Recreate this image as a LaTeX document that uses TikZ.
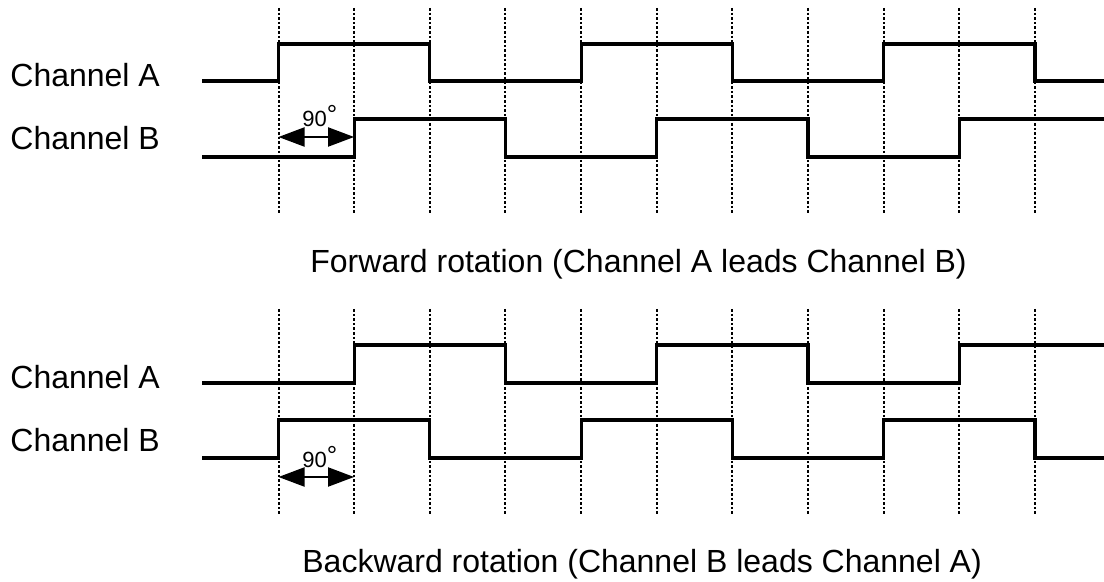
\documentclass[tikz,border=0pt]{standalone}
\usepackage{fontspec}
\setmainfont{Liberation Sans}
\usetikzlibrary{arrows.meta}
\begin{document}
\begin{tikzpicture}[x=0.5pt,y=-0.5pt,
  signal/.style={line width=1.6pt, line join=miter},
  grid/.style={line width=1pt, dash pattern=on 1.3pt off 1pt},
  lab/.style={inner sep=0pt, anchor=base west, font=\fontsize{16}{19}\selectfont},
  deg/.style={inner sep=0pt, anchor=base west, font=\fontsize{11}{13}\selectfont},
  phase/.style={line width=1pt, {Triangle[length=13pt,width=9.5pt]}-{Triangle[length=13pt,width=9.5pt]}}]
\useasboundingbox (0,0) rectangle (1104,582);
% grid lines
\foreach \i in {0,...,10}{
  \draw[grid] ({278.5+75.64*\i},8) -- ({278.5+75.64*\i},213);
  \draw[grid] ({278.5+75.64*\i},309) -- ({278.5+75.64*\i},514);
}
% labels
\node[lab] (ta) at (10,87) {Channel A};
\node[lab] (tb) at (10,150) {Channel B};
\node[lab] (ba) at (10,389) {Channel A};
\node[lab] (bb) at (10,452) {Channel B};
\node[lab] (fcap) at (310,273) {Forward rotation (Channel A leads Channel B)};
\node[lab] (bcap) at (302,573) {Backward rotation (Channel B leads Channel A)};
% top waveforms
\draw[signal] (202,81) -- (278.5,81) -- (278.5,44) -- (429.8,44) -- (429.8,81) -- (581.1,81) -- (581.1,44) -- (732.3,44) -- (732.3,81) -- (883.6,81) -- (883.6,44) -- (1034.9,44) -- (1034.9,81) -- (1104,81);
\draw[signal] (202,157) -- (354.1,157) -- (354.1,119) -- (505.4,119) -- (505.4,157) -- (656.7,157) -- (656.7,119) -- (808.0,119) -- (808.0,157) -- (959.3,157) -- (959.3,119) -- (1104,119);
% bottom waveforms
\draw[signal] (202,383) -- (354.1,383) -- (354.1,345) -- (505.4,345) -- (505.4,383) -- (656.7,383) -- (656.7,345) -- (808.0,345) -- (808.0,383) -- (959.3,383) -- (959.3,345) -- (1104,345);
\draw[signal] (202,458) -- (278.5,458) -- (278.5,420) -- (429.8,420) -- (429.8,458) -- (581.1,458) -- (581.1,420) -- (732.3,420) -- (732.3,458) -- (883.6,458) -- (883.6,420) -- (1034.9,420) -- (1034.9,458) -- (1104,458);
% phase arrows
\coordinate (p1l) at (278.5,137);
\coordinate (p1r) at (354.1,137);
\coordinate (p2l) at (278.5,477);
\coordinate (p2r) at (354.1,477);
\draw[phase] (p1l) -- (p1r);
\draw[phase] (p2l) -- (p2r);
\node[deg] (d1) at (302,127) {90\raisebox{1.7pt}{\fontsize{13}{13}\selectfont °}};
\node[deg] (d2) at (302,468) {90\raisebox{1.7pt}{\fontsize{13}{13}\selectfont °}};
\end{tikzpicture}
\end{document}
